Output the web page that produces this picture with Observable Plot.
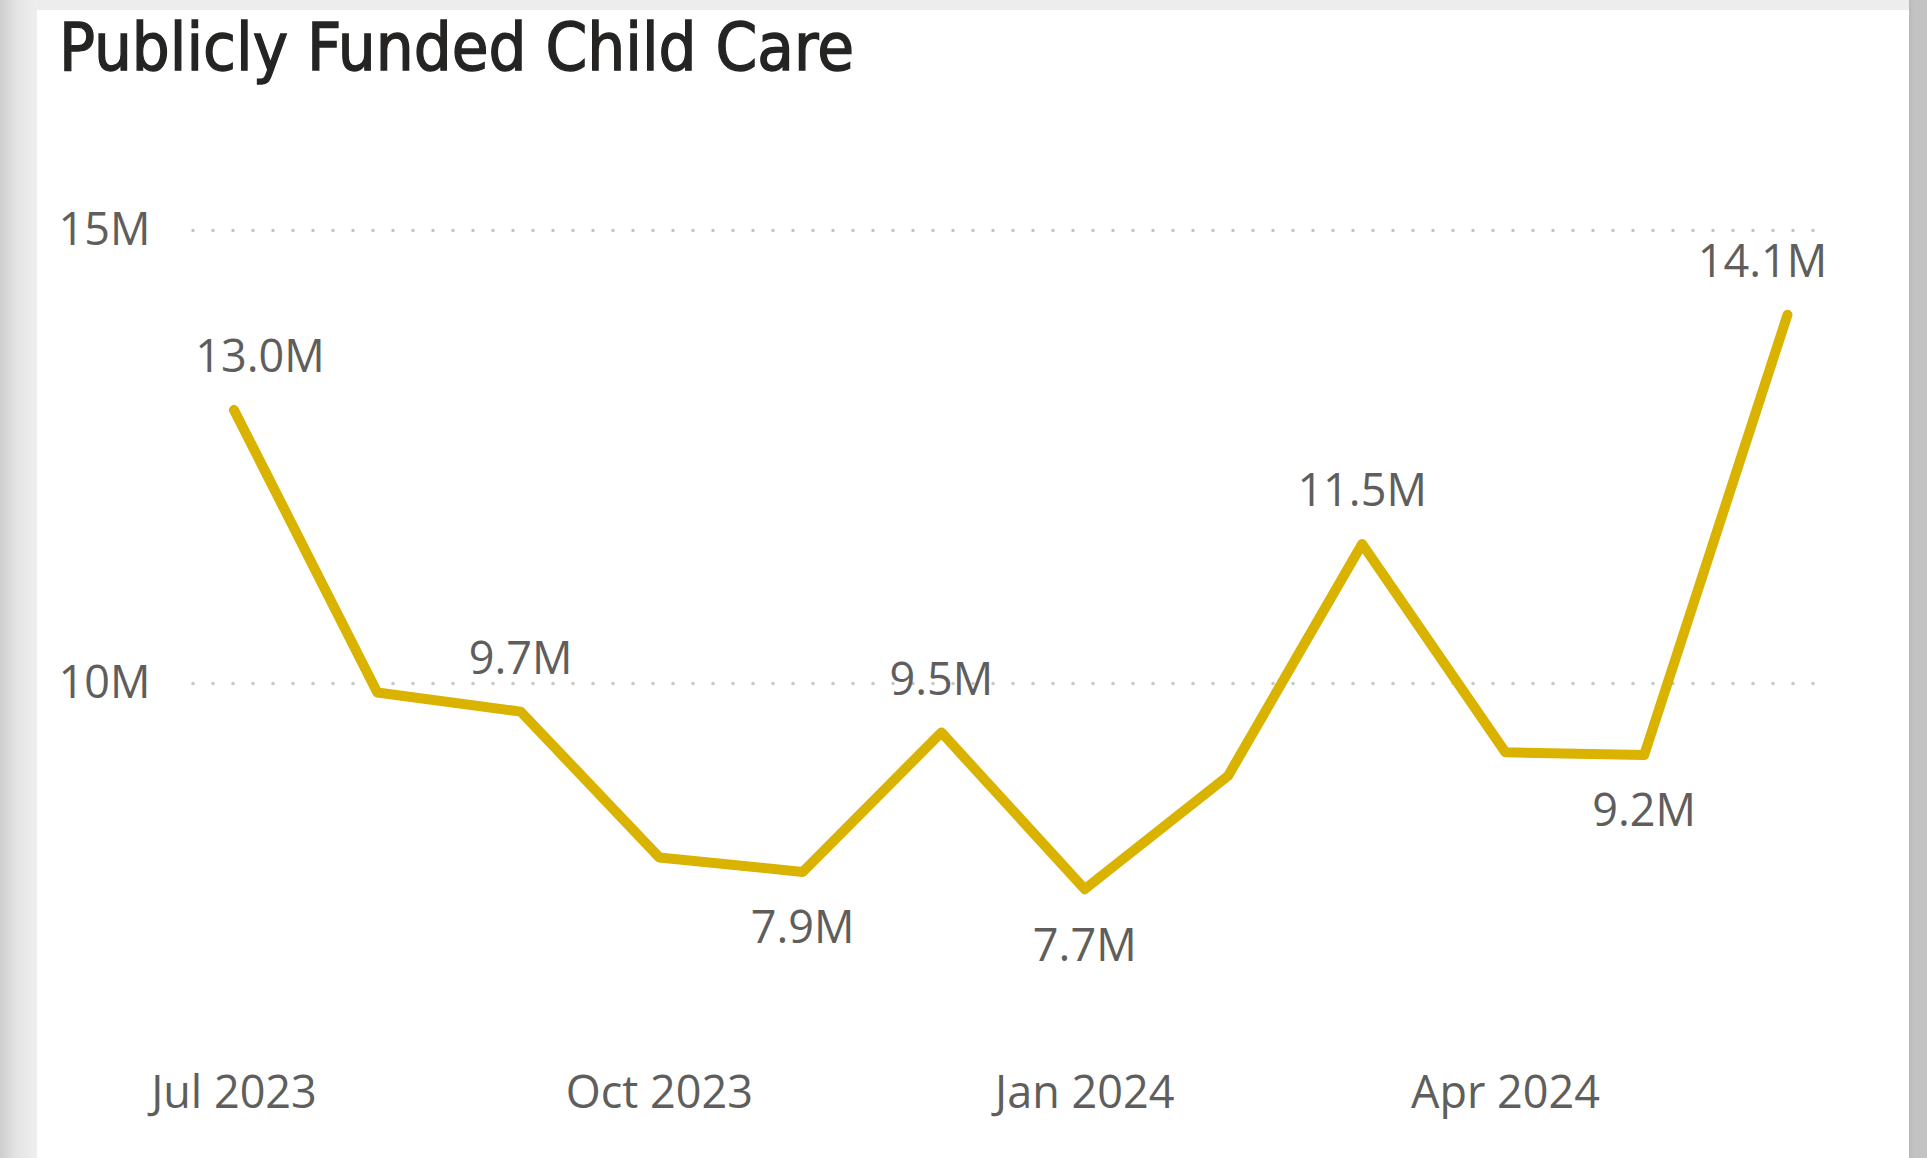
<!DOCTYPE html>
<html>
<head>
<meta charset="utf-8">
<script src="https://cdn.jsdelivr.net/npm/d3@7"></script>
<script src="https://cdn.jsdelivr.net/npm/@observablehq/plot@0.6"></script>
<style>
  html, body { margin: 0; padding: 0; width: 1927px; height: 1158px; overflow: hidden; background: #ededed; }
  #leftShade { position: absolute; left: 0; top: 0; width: 37px; height: 1158px;
    background: linear-gradient(to right, #cdcdcd 0%, #e4e4e4 45%, #efefef 100%); }
  #rightShade { position: absolute; left: 1909px; top: 0; width: 18px; height: 1158px;
    background: linear-gradient(to right, #b9b9b9 0%, #c3c3c3 30%, #c3c3c3 100%); }
  #card { position: absolute; left: 37px; top: 10px; width: 1872px; height: 1148px; background: #ffffff; }
  #title { position: absolute; left: 59px; top: 6px; height: 100px; margin: 0;
    font-family: "DejaVu Sans Condensed", "DejaVu Sans", sans-serif; font-stretch: condensed;
    font-size: 65px; font-weight: normal; color: #252423; white-space: nowrap;
    -webkit-text-stroke: 1.3px #252423;
    transform-origin: 0 0; line-height: 1.3; }
  #chart { position: absolute; left: 0; top: 110px; }
</style>
</head>
<body>
<div id="leftShade"></div>
<div id="rightShade"></div>
<div id="card"></div>
<div id="title">Publicly Funded Child Care</div>
<div id="chart"></div>
<script>
// ---- data (values in millions) ----
const months = ["2023-07", "2023-08", "2023-09", "2023-10", "2023-11", "2023-12",
                "2024-01", "2024-02", "2024-03", "2024-04", "2024-05", "2024-06"];
const values = [13.02, 9.90, 9.69, 8.08, 7.92, 9.46, 7.73, 8.98, 11.54, 9.24, 9.21, 14.07];
const labeledMonths = ["2023-07", "2023-09", "2023-11", "2023-12", "2024-01", "2024-03", "2024-05", "2024-06"];
const xTickMonths = ["2023-07", "2023-10", "2024-01", "2024-04"];
const yTickValues = [10, 15]; // millions

// fit title width
const titleEl = document.getElementById("title");
const tw = titleEl.getBoundingClientRect().width;
titleEl.style.transform = `scaleX(${795 / tw})`;

const toDate = m => new Date(m + "-01T00:00:00Z");
const data = months.map((m, i) => ({ month: m, date: toDate(m), value: values[i] * 1e6 }));
const n = data.length;
data.forEach((d, i) => {
  const prev = i > 0 ? data[i - 1].value : Infinity;
  const next = i < n - 1 ? data[i + 1].value : Infinity;
  d.below = d.value < prev && d.value < next;
  d.label = d3.format(".1f")(d.value / 1e6) + "M";
  d.shown = labeledMonths.includes(d.month);
});
const shown = data.filter(d => d.shown);
const first = data[0], last = data[n - 1];
const mid = shown.filter(d => d !== first && d !== last);

const textColor = "#605E5C";
const fs = 45;

const plot = Plot.plot({
  width: 1927,
  height: 1048,
  marginLeft: 190,
  marginRight: 111,
  marginTop: 0,
  marginBottom: 95,
  x: { type: "utc", domain: [first.date, last.date], range: [233.5, 1787] },
  y: { domain: [10e6, 15e6], range: [573, 120] },
  style: { fontFamily: "'Open Sans', 'Noto Sans', sans-serif", background: "transparent", color: textColor },
  marks: [
    Plot.ruleY(yTickValues.map(v => v * 1e6), {
      stroke: "#c8c6c4", strokeWidth: 3.5, strokeDasharray: "0 20", strokeLinecap: "round", strokeDashoffset: -3
    }),
    Plot.axisY({
      ticks: yTickValues.map(v => v * 1e6), tickSize: 0, tickPadding: 40,
      tickFormat: v => (v / 1e6) + "M", fontSize: fs, fill: textColor, label: null
    }),
    Plot.axisX({
      ticks: xTickMonths.map(toDate), tickSize: 0, tickPadding: 13,
      tickFormat: d3.utcFormat("%b %Y"), fontSize: fs, fill: textColor, label: null
    }),
    Plot.line(data, {
      x: "date", y: "value", stroke: "#D9B300", strokeWidth: 10,
      strokeLinecap: "round", strokeLinejoin: "round"
    }),
    Plot.text(mid.filter(d => !d.below), { x: "date", y: "value", text: "label", dy: -52, fontSize: fs, fill: textColor }),
    Plot.text(mid.filter(d => d.below), { x: "date", y: "value", text: "label", dy: 57, fontSize: fs, fill: textColor }),
    Plot.text([first], { x: "date", y: "value", text: "label", dy: -52, dx: 26, fontSize: fs, fill: textColor }),
    Plot.text([last], { x: "date", y: "value", text: "label", dy: -52, dx: -25, fontSize: fs, fill: textColor })
  ]
});
document.getElementById("chart").appendChild(plot);
</script>
</body>
</html>
